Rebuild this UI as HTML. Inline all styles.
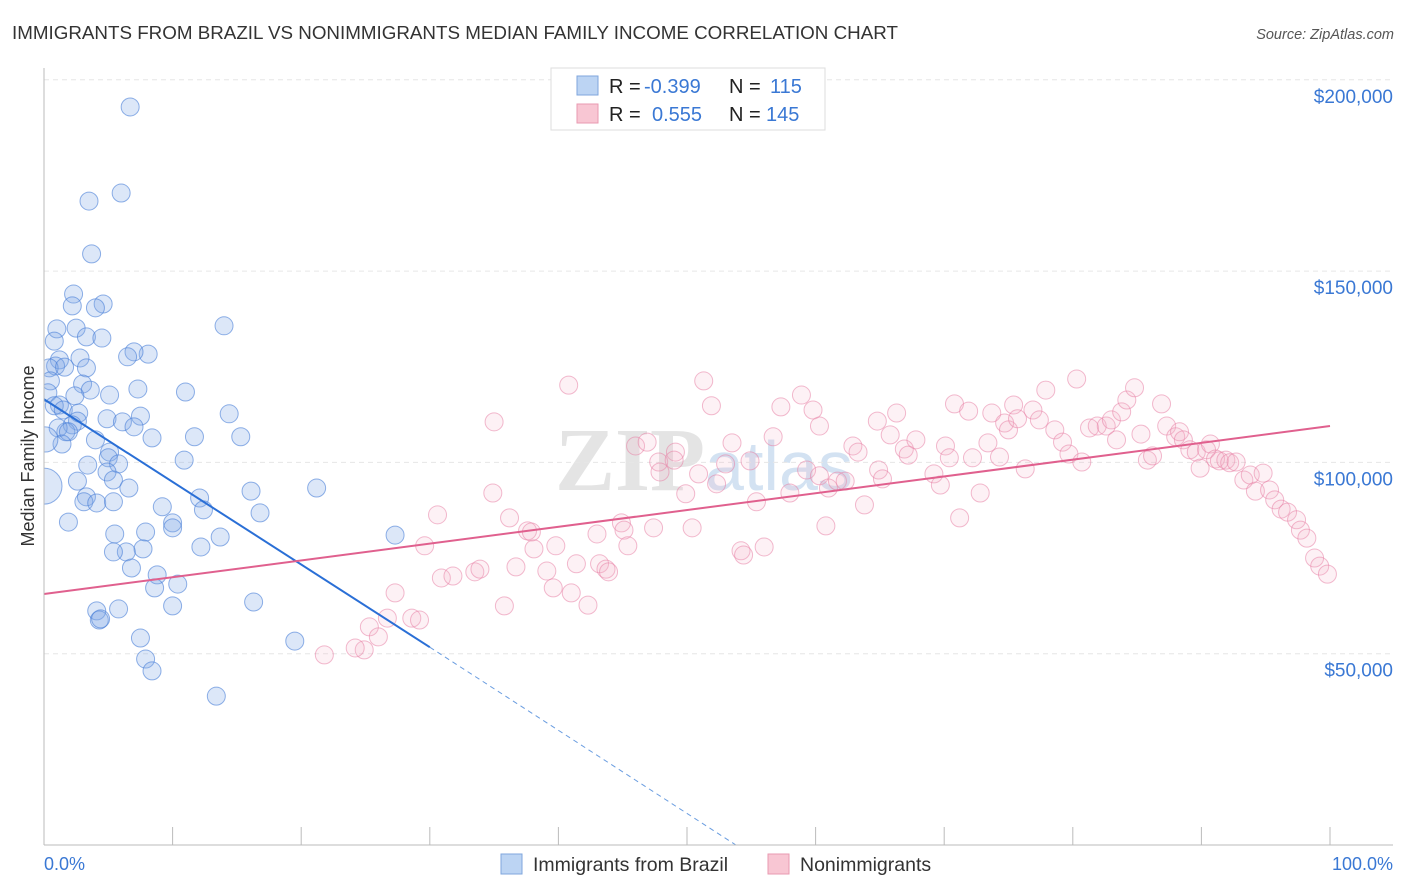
<!DOCTYPE html>
<html><head><meta charset="utf-8"><style>
body{margin:0;background:#fff;font-family:"Liberation Sans",sans-serif}
svg{display:block}
</style></head><body>
<svg id="c" width="1406" height="892">
<text x="12" y="39" font-size="18.8" fill="#333">IMMIGRANTS FROM BRAZIL VS NONIMMIGRANTS MEDIAN FAMILY INCOME CORRELATION CHART</text>
<text x="1394" y="39" font-size="14.5" font-style="italic" fill="#555" text-anchor="end">Source: ZipAtlas.com</text>
<text x="0" y="0" transform="translate(34,456) rotate(-90)" font-size="18" fill="#333" text-anchor="middle">Median Family Income</text>
<text x="555" y="490" font-size="90" fill="#e4e4e4" font-family="Liberation Serif" font-weight="bold">ZIP<tspan font-family="Liberation Sans" font-weight="normal" font-size="70" fill="#d3e2f2">atlas</tspan></text>
<g id="grid"></g><g id="blue"></g><g id="pink"></g><g id="lines"></g>
<line x1="44" y1="68" x2="44" y2="845" stroke="#bbb"/>
<line x1="44" y1="845" x2="1393" y2="845" stroke="#bbb"/>
<g id="ticks"></g>
<text x="44" y="870" font-size="18" fill="#3a78d4">0.0%</text>
<text x="1393" y="870" font-size="18" fill="#3a78d4" text-anchor="end">100.0%</text>
<g>
<rect x="551" y="68" width="274" height="62" fill="#fff" stroke="#ddd"/>
<rect x="577" y="76" width="21" height="19" fill="#bcd4f3" stroke="#7fa6dd"/>
<rect x="577" y="104" width="21" height="19" fill="#f8c6d3" stroke="#e99ab0"/>
<text x="609" y="93" font-size="20" fill="#222">R = <tspan x="644" fill="#3a78d4">-0.399</tspan><tspan x="729">N = </tspan><tspan x="770" fill="#3a78d4">115</tspan></text>
<text x="609" y="121" font-size="20" fill="#222">R = <tspan x="652" fill="#3a78d4">0.555</tspan><tspan x="729">N = </tspan><tspan x="766" fill="#3a78d4">145</tspan></text>
</g>
<g>
<rect x="501" y="854" width="21" height="20" fill="#bcd4f3" stroke="#7fa6dd"/>
<text x="533" y="871" font-size="19.5" fill="#333">Immigrants from Brazil</text>
<rect x="768" y="854" width="21" height="20" fill="#f8c6d3" stroke="#e99ab0"/>
<text x="800" y="871" font-size="19.5" fill="#333">Nonimmigrants</text>
</g>
</svg>
<script>
const yTicks=[50000,100000,150000,200000];
const yTickLabels=["$50,000","$100,000","$150,000","$200,000"];
const blueX=[6.7,6.0,3.5,3.7,2.3,2.2,4.6,4.0,1.0,2.5,3.3,4.5,14.0,0.8,8.1,7.0,6.5,2.8,1.2,0.9,0.4,1.6,3.3,0.5,3.0,3.6,5.1,7.3,11.0,2.4,0.3,1.2,0.8,1.5,2.7,2.6,7.5,14.4,4.9,6.1,7.0,2.2,1.7,1.1,1.9,4.0,1.4,8.4,11.7,15.3,5.1,5.0,10.9,3.4,5.8,4.9,2.6,5.4,6.6,16.1,3.3,3.1,4.1,5.4,9.2,12.1,12.4,16.8,21.2,1.9,10.0,10.0,7.9,5.5,13.7,12.2,7.7,6.4,5.4,6.8,8.8,10.4,8.6,5.8,4.1,4.3,4.4,10.0,16.3,7.5,7.9,8.4,13.4,19.5,27.3,0.1,0];
const blueY=[192.9,170.4,168.3,154.5,144.0,140.9,141.4,140.4,134.9,135.1,132.8,132.5,135.7,131.7,128.3,128.9,127.6,127.3,126.8,125.2,124.7,124.9,124.7,121.3,120.5,118.9,117.6,119.2,118.4,117.4,118.2,115.0,114.8,113.7,112.9,110.8,112.1,112.7,111.4,110.6,109.3,109.8,108.0,109.0,108.0,105.9,104.8,106.4,106.7,106.7,102.7,101.2,100.6,99.3,99.6,97.5,95.1,95.4,93.3,92.5,91.0,89.7,89.4,89.7,88.4,90.7,87.6,86.8,93.3,84.4,84.2,82.9,81.8,81.3,80.5,77.9,77.4,76.6,76.6,72.4,70.6,68.2,67.2,61.7,61.2,58.8,59.1,62.5,63.5,54.1,48.6,45.5,38.9,53.3,81.0,106.0,93.8];
const blueSize=blueX.map((v,i)=>i===blueX.length-1?2:(i===blueX.length-2?1.4:1));
const pinkX=[35.0,40.8,51.3,51.9,46.0,46.9,49.1,47.8,49.0,47.9,34.9,30.6,36.2,37.6,37.9,43.0,44.9,45.1,47.4,50.4,45.4,39.8,43.2,36.7,39.1,41.4,43.7,43.9,33.5,33.9,30.9,31.8,35.8,39.6,41.0,42.3,38.1,29.6,27.3,26.7,28.6,29.2,25.3,26.0,24.9,24.2,21.8,49.9,50.9,52.3,53.5,54.9,53.0,55.4,56.0,54.2,54.4,58.0,58.9,57.3,59.8,60.3,56.7,59.3,60.3,61.0,60.8,61.7,62.3,62.9,63.3,63.8,64.8,64.9,65.2,66.3,65.8,66.9,67.2,67.8,69.2,69.7,70.1,70.4,70.8,71.9,72.2,71.2,72.8,73.4,73.7,74.3,74.7,75.0,75.4,75.7,76.3,76.9,77.4,77.9,78.6,79.2,79.7,80.3,80.7,81.3,81.9,82.6,83.0,83.4,83.8,84.2,84.8,85.3,85.8,86.2,86.9,87.3,88.0,88.3,88.6,89.1,89.6,89.9,90.4,90.7,91.1,91.4,91.9,92.2,92.7,93.3,93.8,94.2,94.8,95.3,95.7,96.2,96.7,97.4,97.7,98.2,98.8,99.2,99.8];
const pinkY=[110.6,120.2,121.3,114.8,104.3,105.3,102.7,100.1,100.6,97.5,92.0,86.3,85.5,82.1,81.8,81.3,84.2,82.3,82.9,82.9,78.2,78.2,73.5,72.7,71.6,73.5,72.1,71.4,71.4,72.1,69.8,70.3,62.5,67.2,65.9,62.7,77.4,78.2,65.9,59.3,59.3,58.8,57.0,54.4,51.0,51.5,49.7,91.8,97.0,94.4,105.1,100.4,99.6,89.7,77.9,76.9,75.8,92.0,117.6,114.5,113.7,109.5,106.7,98.0,96.5,93.3,83.4,95.1,95.1,104.3,102.7,88.9,110.8,98.0,95.7,112.9,107.2,103.5,101.9,105.9,97.0,94.1,104.3,101.2,115.3,113.4,101.2,85.5,92.0,105.1,112.9,101.4,110.3,108.5,115.0,111.4,98.3,113.7,111.1,118.9,108.5,105.3,102.2,121.8,100.1,109.0,109.5,109.5,111.1,105.9,113.2,116.3,119.5,107.4,100.6,101.7,115.3,109.5,106.7,108.0,105.9,103.3,102.7,98.5,103.3,104.8,100.9,100.4,100.6,99.9,100.1,95.4,96.7,92.5,97.2,92.8,90.2,87.8,87.0,85.0,82.3,80.2,75.0,72.9,70.8];
const blueTrend=[[0,116.5],[30,51.7],[53.8,0]];
const pinkTrend=[[0,65.6],[100,109.5]];
const NS="http://www.w3.org/2000/svg";
const sx=p=>44+p*12.86;
const sy=k=>845-k*3.826;
function mk(t,a,parent){const e=document.createElementNS(NS,t);for(const k in a)e.setAttribute(k,a[k]);document.getElementById(parent).appendChild(e);return e;}
yTicks.forEach((v,i)=>{
 const y=sy(v/1000);
 const g=mk('line',{x1:44,x2:1393,y1:y,y2:y,stroke:'#e6e6e6','stroke-dasharray':'5,4'},'grid');
 
 
 const t=mk('text',{x:1393,y:y+23,'font-size':19,fill:'#3a78d4','text-anchor':'end'},'ticks');
 t.textContent=yTickLabels[i];
 
 
});
for(let i=0;i<=10;i++){const l=mk('line',{x1:sx(i*10),x2:sx(i*10),y1:827,y2:845,stroke:'#bbb'},'ticks');
 
 }
const defs=mk('defs',{},'c');
const cp=document.createElementNS(NS,'clipPath');cp.setAttribute('id','pc');defs.appendChild(cp);
const cr=document.createElementNS(NS,'rect');cr.setAttribute('x',44);cr.setAttribute('y',60);cr.setAttribute('width',1360);cr.setAttribute('height',785);cp.appendChild(cr);
document.getElementById('blue').setAttribute('clip-path','url(#pc)');
blueX.forEach((x,i)=>{const c=mk('circle',{cx:sx(x),cy:sy(blueY[i]),r:9*blueSize[i],fill:'rgba(130,170,230,0.28)',stroke:'rgba(70,125,215,0.6)','stroke-width':1},'blue');
 
 });
pinkX.forEach((x,i)=>{const c=mk('circle',{cx:sx(x),cy:sy(pinkY[i]),r:9,fill:'rgba(245,175,200,0.18)',stroke:'rgba(232,130,165,0.55)','stroke-width':1},'pink');
 
 });
let l=mk('line',{x1:sx(blueTrend[0][0]),y1:sy(blueTrend[0][1]),x2:sx(blueTrend[1][0]),y2:sy(blueTrend[1][1]),stroke:'#2a6fd6','stroke-width':2},'lines');


l=mk('line',{x1:sx(blueTrend[1][0]),y1:sy(blueTrend[1][1]),x2:sx(blueTrend[2][0]),y2:sy(blueTrend[2][1]),stroke:'#6a9de0','stroke-width':1,'stroke-dasharray':'5,4'},'lines');


l=mk('line',{x1:sx(pinkTrend[0][0]),y1:sy(pinkTrend[0][1]),x2:sx(pinkTrend[1][0]),y2:sy(pinkTrend[1][1]),stroke:'#e0608e','stroke-width':2},'lines');


</script>
</body></html>
